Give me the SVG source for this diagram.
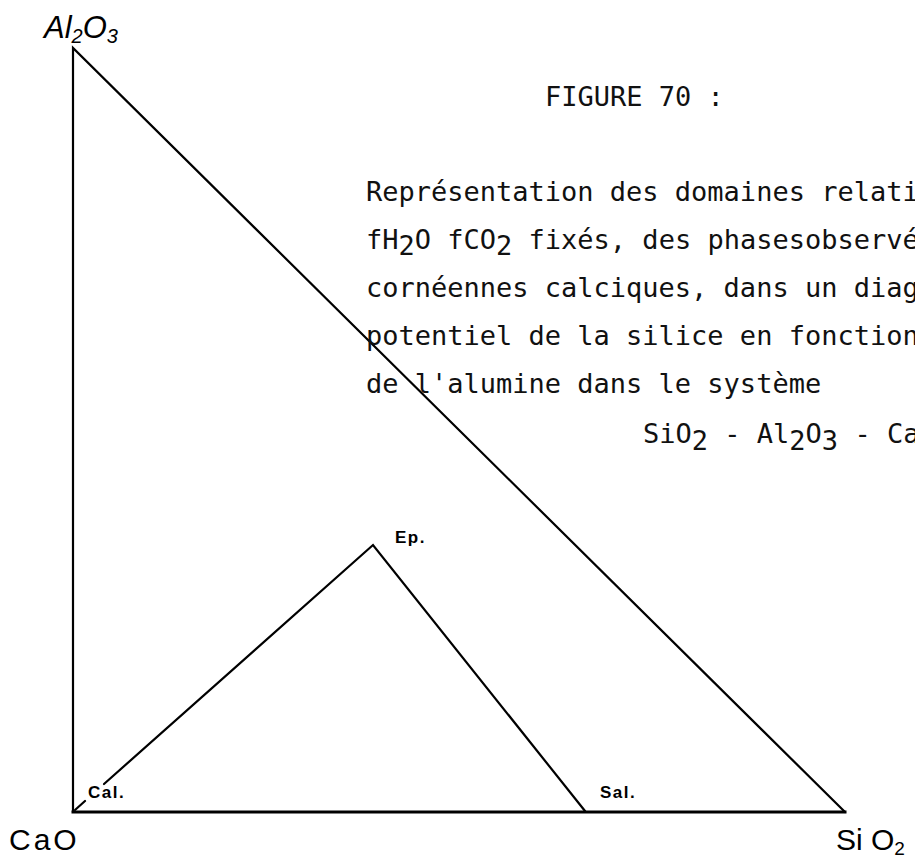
<svg xmlns="http://www.w3.org/2000/svg" width="915" height="861" viewBox="0 0 915 861">
<style>
.ln{stroke:#000;stroke-width:2.2;fill:none;stroke-linecap:round;stroke-linejoin:miter}
.base{stroke:#000;stroke-width:3;fill:none;stroke-linecap:square}
.tx{font-family:"DejaVu Sans Mono","Liberation Mono",monospace;font-size:27px;fill:#111}
.hw{font-family:"Liberation Sans","DejaVu Sans",sans-serif;fill:#000}
.lb{font-family:"Liberation Sans","DejaVu Sans",sans-serif;font-weight:bold;font-size:17px;letter-spacing:1.5px;fill:#000}
</style>
<rect width="915" height="861" fill="#fff"/>
<g id="connectors">
<path class="ln" d="M73,812 L73,48 L845,812"/>
<path class="base" d="M73,812 L845,812"/>
<path class="ln" d="M75,810 L85,801 M104,784 L373,545 L585,811"/>
</g>
<g id="node-al2o3"><text class="hw" x="44" y="38" font-size="31" font-style="italic">Al<tspan font-size="20" dy="5">2</tspan><tspan dy="-5">O</tspan><tspan font-size="20" dy="5">3</tspan></text></g>
<g id="node-cao"><text class="hw" x="9" y="850" font-size="30" letter-spacing="3">CaO</text></g>
<g id="node-sio2"><text class="hw" x="836" y="850" font-size="30">Si O<tspan font-size="19" dy="5">2</tspan></text></g>
<g id="node-ep"><text class="lb" x="395" y="543">Ep.</text></g>
<g id="node-cal"><text class="lb" x="88" y="798">Cal.</text></g>
<g id="node-sal"><text class="lb" x="600" y="798">Sal.</text></g>
<g id="caption">
<text class="tx" x="545" y="106">FIGURE 70 :</text>
<text class="tx" x="366" y="201">Représentation des domaines relatifs</text>
<text class="tx" x="366" y="249">fH<tspan dy="6">2</tspan><tspan dy="-6">O fCO</tspan><tspan dy="6">2</tspan><tspan dy="-6"> fixés, des phasesobservées</tspan></text>
<text class="tx" x="366" y="297">cornéennes calciques, dans un diagramme</text>
<text class="tx" x="366" y="345">potentiel de la silice en fonction</text>
<text class="tx" x="366" y="393">de l'alumine dans le système</text>
<text class="tx" x="643" y="443">SiO<tspan dy="7">2</tspan><tspan dy="-7"> - Al</tspan><tspan dy="7">2</tspan><tspan dy="-7">O</tspan><tspan dy="7">3</tspan><tspan dy="-7"> - CaO</tspan></text>
</g>
</svg>
